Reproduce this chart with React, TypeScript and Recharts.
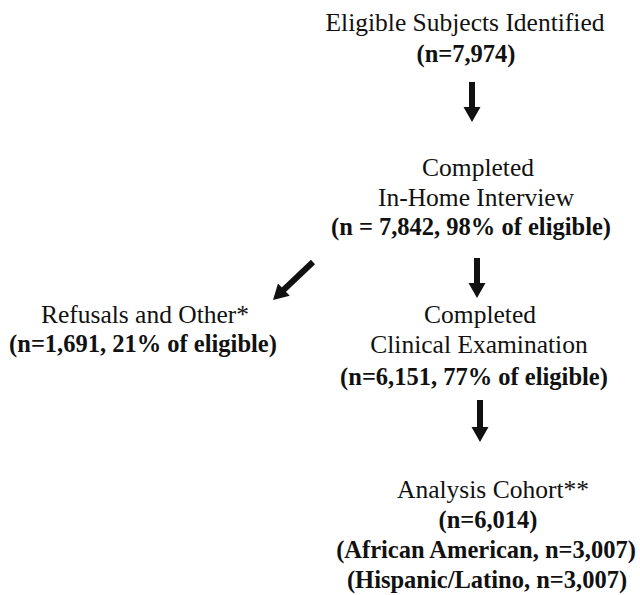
import React from 'react';
import { ScatterChart, Scatter, XAxis, YAxis, ReferenceLine } from 'recharts';

// flowchart text lines: x = centre, y = baseline (page pixels)
const lineText = [
  'Eligible Subjects Identified',
  '(n=7,974)',
  'Completed',
  'In-Home Interview',
  '(n = 7,842, 98% of eligible)',
  'Refusals and Other*',
  '(n=1,691, 21% of eligible)',
  'Completed',
  'Clinical Examination',
  '(n=6,151, 77% of eligible)',
  'Analysis Cohort**',
  '(n=6,014)',
  '(African American, n=3,007)',
  '(Hispanic/Latino, n=3,007)',
];
const lineX = [465, 466, 478, 476, 471, 145, 143, 480, 479, 474, 493, 488, 486, 487];
const lineY = [31, 62, 176, 206, 235, 323, 352, 323, 353, 385, 498, 528, 558, 588];
const lineBold = [false, true, false, false, true, false, true, false, false, true, false, true, true, true];

// arrows: tail and tip points
const arrowFrom = [[472, 82], [313, 262], [477, 258], [480, 400]];
const arrowTo = [[472, 122], [273, 300], [477, 298], [480, 442]];

const textData = lineText.map((t, i) => ({ x: lineX[i], y: lineY[i], text: t, bold: lineBold[i] }));

const TextShape = (props: any) => {
  const { cx, cy, payload } = props;
  return (
    <text
      x={cx}
      y={cy}
      textAnchor="middle"
      style={{
        fontFamily: 'Liberation Serif, Times New Roman, serif',
        fontSize: payload.bold ? 24.5 : 25.5,
        fontWeight: payload.bold ? 700 : 400,
      }}
      fill="#111"
    >
      {payload.text}
    </text>
  );
};

const ArrowShape = (props: any) => {
  const { x1, y1, x2, y2 } = props;
  const dx = x2 - x1;
  const dy = y2 - y1;
  const len = Math.sqrt(dx * dx + dy * dy) || 1;
  const ux = dx / len;
  const uy = dy / len;
  const head = 15;
  const half = 8.5;
  const bx = x2 - ux * head;
  const by = y2 - uy * head;
  const pts = [
    [x2, y2],
    [bx - uy * half, by + ux * half],
    [bx + uy * half, by - ux * half],
  ]
    .map((p) => p.join(','))
    .join(' ');
  return (
    <g>
      <line x1={x1} y1={y1} x2={bx + ux * 2} y2={by + uy * 2} stroke="#111" strokeWidth={6} />
      <polygon points={pts} fill="#111" />
    </g>
  );
};

export default function App() {
  return (
    <div style={{ position: 'absolute', left: 0, top: 0, background: '#fff' }}>
      <ScatterChart width={640} height={595} margin={{ top: 0, right: 0, bottom: 0, left: 0 }}>
        <XAxis type="number" dataKey="x" domain={[0, 640]} hide />
        <YAxis type="number" dataKey="y" domain={[0, 595]} reversed hide />
        {arrowFrom.map((f, i) => (
          <ReferenceLine
            key={i}
            segment={[
              { x: f[0], y: f[1] },
              { x: arrowTo[i][0], y: arrowTo[i][1] },
            ]}
            ifOverflow="visible"
            shape={ArrowShape}
          />
        ))}
        <Scatter data={textData} shape={TextShape} isAnimationActive={false} />
      </ScatterChart>
    </div>
  );
}
